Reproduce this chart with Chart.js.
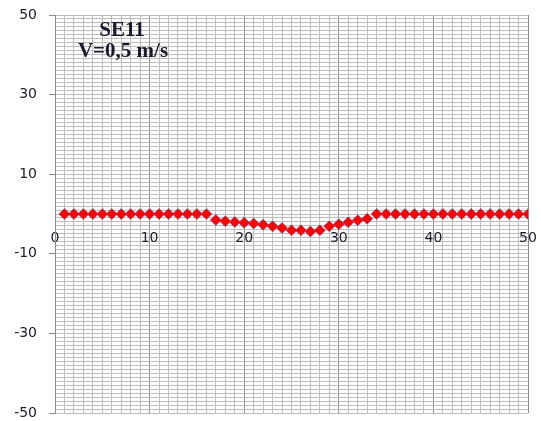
<!DOCTYPE html>
<html>
<head>
<meta charset="utf-8">
<script src="https://cdn.jsdelivr.net/npm/chart.js@4/dist/chart.umd.min.js"></script>
<style>
  body { margin: 0; background: #fff; }
  #wrap { width: 541px; height: 421px; }
</style>
</head>
<body>
<div id="wrap"><canvas id="myChart" width="541" height="421"></canvas></div>
<script>
// position along the profile
const positions = [1, 2, 3, 4, 5, 6, 7, 8, 9, 10,
                   11, 12, 13, 14, 15, 16, 17, 18, 19, 20,
                   21, 22, 23, 24, 25, 26, 27, 28, 29, 30,
                   31, 32, 33, 34, 35, 36, 37, 38, 39, 40,
                   41, 42, 43, 44, 45, 46, 47, 48, 49, 50];
// measured values (SE11)
const values = [0, 0, 0, 0, 0, 0, 0, 0, 0, 0,
                0, 0, 0, 0, 0, 0, -1.5, -1.8, -2.0, -2.2,
                -2.4, -2.7, -3.1, -3.5, -4.1, -4.1, -4.4, -4.1, -3.1, -2.6,
                -2.1, -1.6, -1.2, 0, 0, 0, 0, 0, 0, 0,
                0, 0, 0, 0, 0, 0, 0, 0, 0, 0];
const yLabels = [50, 30, 10, -10, -30, -50];
const xLabels = [0, 10, 20, 30, 40, 50];
const titleLines = ['SE11', 'V=0,5 m/s'];

const points = positions.map((p, i) => ({ x: p, y: values[i] }));

const textPlugin = {
    id: 'boxText',
    afterDraw(chart) {
        const ctx = chart.ctx;
        ctx.save();
        ctx.font = 'bold 21px "Liberation Serif", "Times New Roman", serif';
        ctx.fillStyle = '#1a1a2e';
        ctx.textAlign = 'center';
        ctx.textBaseline = 'alphabetic';
        ctx.fillText(titleLines[0], 122, 36);
        ctx.fillText(titleLines[1], 123, 57);
        ctx.restore();
    }
};

const ctx = document.getElementById('myChart').getContext('2d');
const myChart = new Chart(ctx, {
    type: 'scatter',
    data: {
        datasets: [{
            label: 'SE11',
            data: points,
            showLine: false,
            pointStyle: 'rectRot',
            pointRadius: 5.5,
            pointHoverRadius: 5.5,
            backgroundColor: '#ff0000',
            borderColor: 'rgba(90, 70, 140, 0.55)',
            borderWidth: 1
        }]
    },
    options: {
        responsive: false,
        animation: false,
        layout: { padding: { top: 15, right: 13, bottom: 8, left: 0 } },
        plugins: {
            legend: { display: false },
            tooltip: { enabled: false }
        },
        scales: {
            x: {
                type: 'linear',
                position: { y: 0 },
                min: 0,
                max: 50,
                afterFit: scale => {
                    scale.height = 0;
                    scale.paddingLeft = 0;
                    scale.paddingRight = 0;
                    scale.paddingTop = 0;
                    scale.paddingBottom = 0;
                },
                ticks: {
                    stepSize: 1,
                    autoSkip: false,
                    maxRotation: 0,
                    padding: 16,
                    color: '#202030',
                    font: { family: '"DejaVu Sans", Verdana, sans-serif', size: 14 },
                    callback: v => xLabels.includes(v) ? String(v) : ''
                },
                grid: {
                    drawTicks: false,
                    color: c => (c.tick && c.tick.value % 10 === 0) ? '#8c8c8c' : '#bdbdbd',
                    lineWidth: 1
                },
                border: { display: false }
            },
            y: {
                min: -50,
                max: 50,
                afterFit: scale => {
                    scale.width = 55;
                    scale.paddingTop = 0;
                    scale.paddingBottom = 0;
                },
                ticks: {
                    stepSize: 1,
                    autoSkip: false,
                    padding: 12,
                    color: '#202030',
                    font: { family: '"DejaVu Sans", Verdana, sans-serif', size: 14 },
                    callback: v => yLabels.includes(v) ? String(v) : ''
                },
                grid: {
                    color: '#bdbdbd',
                    lineWidth: 1,
                    tickLength: 6,
                    tickColor: c => (c.tick && yLabels.includes(c.tick.value)) ? '#8c8c8c' : 'rgba(0,0,0,0)'
                },
                border: { color: '#8c8c8c' }
            }
        }
    },
    plugins: [textPlugin]
});
</script>
</body>
</html>
